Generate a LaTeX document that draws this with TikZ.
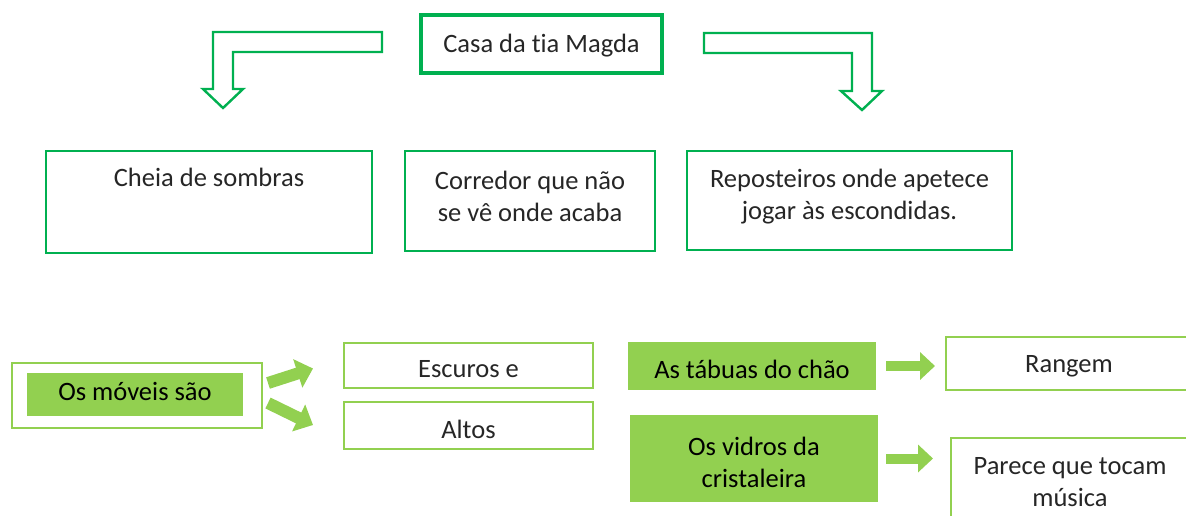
\documentclass[tikz,border=0pt]{standalone}
\usepackage{fontspec}
\setmainfont{Carlito}[Ligatures=NoCommon, RawFeature={-clig;-calt;-dlig}]
\usetikzlibrary{arrows.meta,positioning}
\definecolor{darkgreen}{RGB}{0,176,80}
\definecolor{lightgreen}{RGB}{146,208,80}
\definecolor{txtgray}{RGB}{38,38,38}
\tikzset{
  topbox/.style={draw=darkgreen, line width=2.6pt, align=center, inner sep=0pt, text=txtgray},
  framebox/.style={draw=lightgreen, line width=2pt, align=center, inner sep=0pt, text=txtgray},
  fillbox/.style={fill=lightgreen, align=center, inner sep=0pt, text=black},
  hollow/.style={draw=darkgreen, line width=2.4pt, line join=miter},
  blockarrow/.style={draw=lightgreen, line width=10pt, -{Triangle[length=15pt,width=27pt]}}
}

\begin{document}
\begin{tikzpicture}[x=1pt, y=-1pt, font=\fontsize{26.5}{32}\selectfont]
\useasboundingbox (0,0) rectangle (1186,515);
\clip (0,0) rectangle (1186,515);
%top
\node[topbox, line width=3.4pt, minimum width=241pt, minimum height=58pt, text height=23pt, text depth=6pt] (casa) at (541.5,44) {Casa da tia Magda};
\draw[hollow] (382,32) -- (213,32) -- (213,89) -- (203,89) -- (223,108) -- (243,89) -- (233,89) -- (233,52) -- (382,52) -- cycle;
\draw[hollow] (704,33) -- (872,33) -- (872,91) -- (882,91) -- (862,110) -- (841,91) -- (852,91) -- (852,53) -- (704,53) -- cycle;

%second row
\node[topbox, minimum width=326pt, minimum height=102pt, label={[anchor=base, yshift=-37pt, text=txtgray]north:Cheia de sombras}] (cheia) at (209,202) {};
\node[topbox, minimum width=250pt, minimum height=100pt, text depth=10pt] (corredor) at (530,201) {Corredor que não\\se vê onde acaba};
\node[topbox, minimum width=325pt, minimum height=99pt, text depth=12pt] (reposteiros) at (849.5,200.5) {Reposteiros onde apetece\\jogar às escondidas.};

%third row, left
\node[framebox, minimum width=250pt, minimum height=65pt] (moveisframe) at (137,395.5) {};
\node[fillbox, minimum width=216pt, minimum height=43pt, text height=17.5pt, text depth=6pt] (moveis) at (135,394.5) {Os móveis são};
\node[framebox, minimum width=249pt, minimum height=45pt, text height=29pt, text depth=6pt] (escuros) at (468.5,365.5) {Escuros e};
\node[framebox, minimum width=249pt, minimum height=47pt, text height=32pt, text depth=6pt] (altos) at (468.5,425.5) {Altos};
\draw[blockarrow, line width=12pt, -{Triangle[length=16pt,width=29pt]}] ([xshift=5pt,yshift=12.5pt]moveisframe.east) -- ([xshift=-30pt,yshift=-3pt]escuros.west);
\draw[blockarrow, line width=12pt, -{Triangle[length=16pt,width=29pt]}] ([xshift=5pt,yshift=-7.5pt]moveisframe.east) -- ([xshift=-30pt,yshift=0.5pt]altos.west);

%third row, right
\node[fillbox, minimum width=248pt, minimum height=48pt, text height=31.5pt, text depth=6pt] (tabuas) at (752,366) {As tábuas do chão};
\node[fillbox, minimum width=248pt, minimum height=87pt, text height=58pt] (vidros) at (754,458.5) {Os vidros da\\cristaleira};
\node[framebox, minimum width=246pt, minimum height=53pt, text height=23pt, text depth=6pt] (rangem) at (1069,363.5) {Rangem};
\node[framebox, minimum width=238pt, minimum height=89pt] (parece) at (1070,482.5) {Parece que tocam\\música};
\draw[blockarrow, shorten <=10pt, shorten >=10pt] (tabuas.east) -- (tabuas.east -| rangem.west);
\draw[blockarrow, shorten <=8pt, shorten >=17pt] (vidros.east) -- (vidros.east -| parece.west);
\end{tikzpicture}
\end{document}
